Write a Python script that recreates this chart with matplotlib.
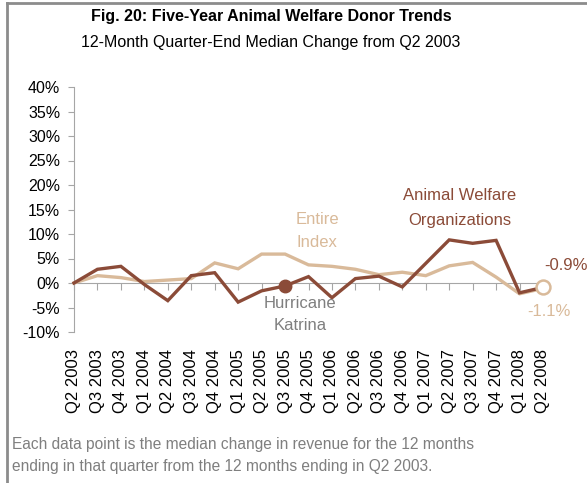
import matplotlib
matplotlib.use("Agg")
import matplotlib.pyplot as plt
from matplotlib.lines import Line2D
from matplotlib.ticker import FuncFormatter, MultipleLocator

plt.rcParams['font.family'] = ['Liberation Sans', 'DejaVu Sans']

quarters = ["Q2 2003", "Q3 2003", "Q4 2003", "Q1 2004", "Q2 2004", "Q3 2004", "Q4 2004",
            "Q1 2005", "Q2 2005", "Q3 2005", "Q4 2005", "Q1 2006", "Q2 2006", "Q3 2006",
            "Q4 2006", "Q1 2007", "Q2 2007", "Q3 2007", "Q4 2007", "Q1 2008", "Q2 2008"]
animal_welfare = [0.0, 2.8, 3.4, -0.3, -3.6, 1.5, 2.1, -3.9, -1.6, -0.6, 1.3, -3.0, 0.9, 1.4,
                  -0.8, 4.0, 8.8, 8.1, 8.7, -2.0, -0.9]
entire_index = [0.0, 1.5, 1.1, 0.3, 0.6, 0.9, 4.1, 2.9, 5.9, 5.9, 3.7, 3.4, 2.8, 1.7,
                2.2, 1.5, 3.5, 4.2, 1.2, -2.2, -1.1]
katrina_idx = 9

dark = "#8B4B38"
tan = "#D9BA9A"
gray_txt = "#7F7F7F"
axis_gray = "#A6A6A6"

fig = plt.figure(figsize=(5.87, 4.83), dpi=100)
ax = fig.add_axes([74/587, 1-332/483, (543-74)/587, (332-87)/483])

x = list(range(len(quarters)))
ax.plot(x, entire_index, color=tan, lw=2.4, solid_joinstyle='miter', zorder=3, clip_on=False)
ax.plot(x, animal_welfare, color=dark, lw=2.4, solid_joinstyle='miter', zorder=4, clip_on=False)
ax.plot([x[katrina_idx]], [animal_welfare[katrina_idx]], 'o', color=dark, ms=9, zorder=5)
ax.plot([x[-1]], [animal_welfare[-1]], 'o', mfc='white', mec=tan, mew=1.8, ms=10,
        zorder=6, clip_on=False)

ax.set_xlim(0, len(quarters) - 1)
ax.set_ylim(-10, 40)
ax.yaxis.set_major_locator(MultipleLocator(5))
ax.yaxis.set_major_formatter(FuncFormatter(lambda v, p: f"{v:.0f}%"))

for s in ['top', 'right']:
    ax.spines[s].set_visible(False)
ax.spines['left'].set_color(axis_gray)
ax.spines['bottom'].set_color(axis_gray)
ax.spines['bottom'].set_position(('data', 0))
ax.tick_params(axis='y', colors=axis_gray, length=4, labelcolor='black', labelsize=11.5, pad=6)
ax.set_xticks(x)
ax.tick_params(axis='x', colors=axis_gray, length=5, labelbottom=False, direction='out')

sec = ax.secondary_xaxis(0)
sec.set_xticks(x)
sec.set_xticklabels(quarters, rotation=90, fontsize=12, color='black')
sec.tick_params(length=0, pad=12)
sec.spines['bottom'].set_visible(False)

ax.patch.set_visible(False)

fig.text(271/587, 1-17/483, "Fig. 20: Five-Year Animal Welfare Donor Trends", ha='center', va='center',
         fontsize=11.5, fontweight='bold')
fig.text(271/587, 1-42/483, "12-Month Quarter-End Median Change from Q2 2003", ha='center', va='center',
         fontsize=11.5)

fig.text(317/587, 1-219/483, "Entire", color=tan, ha='center', va='center', fontsize=12)
fig.text(317/587, 1-243/483, "Index", color=tan, ha='center', va='center', fontsize=12)
fig.text(460/587, 1-196/483, "Animal Welfare", color=dark, ha='center', va='center', fontsize=12)
fig.text(460/587, 1-220/483, "Organizations", color=dark, ha='center', va='center', fontsize=12)
fig.text(300/587, 1-303/483, "Hurricane", color=gray_txt, ha='center', va='center', fontsize=12)
fig.text(300/587, 1-326/483, "Katrina", color=gray_txt, ha='center', va='center', fontsize=12)
fig.text(544/587, 1-265/483, f"{animal_welfare[-1]:.1f}%", color=dark, ha='left', va='center', fontsize=12)
fig.text(527/587, 1-312/483, f"{entire_index[-1]:.1f}%", color=tan, ha='left', va='center', fontsize=12)

fig.text(12/587, 1-445/483, "Each data point is the median change in revenue for the 12 months",
         color=gray_txt, ha='left', va='center', fontsize=11.2)
fig.text(12/587, 1-467/483, "ending in that quarter from the 12 months ending in Q2 2003.",
         color=gray_txt, ha='left', va='center', fontsize=11.2)

fig.add_artist(Line2D([7/587, 1.0], [1-3/483, 1-3/483], color='#8C8C8C', lw=2))
fig.add_artist(Line2D([7/587, 7/587], [0, 1-3/483], color='#8C8C8C', lw=2))

fig.savefig("out.png", dpi=100)
